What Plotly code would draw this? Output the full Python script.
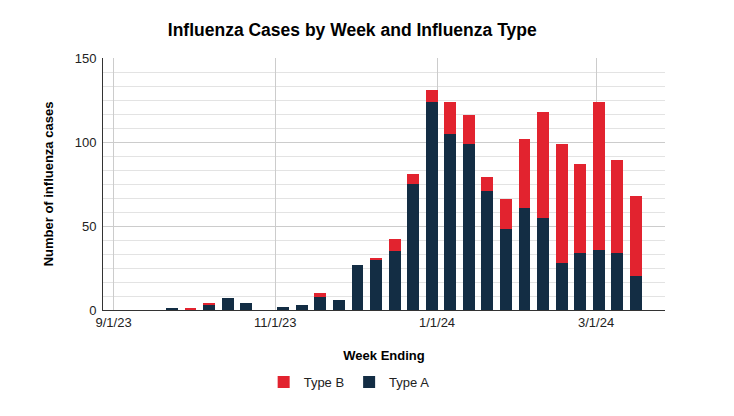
import plotly.graph_objects as go

# week ending dates (Saturdays)
weeks = ['2023-09-02', '2023-09-09', '2023-09-16', '2023-09-23', '2023-09-30',
         '2023-10-07', '2023-10-14', '2023-10-21', '2023-10-28', '2023-11-04',
         '2023-11-11', '2023-11-18', '2023-11-25', '2023-12-02', '2023-12-09',
         '2023-12-16', '2023-12-23', '2023-12-30', '2024-01-06', '2024-01-13',
         '2024-01-20', '2024-01-27', '2024-02-03', '2024-02-10', '2024-02-17',
         '2024-02-24', '2024-03-02', '2024-03-09', '2024-03-16']

type_a = [0, 0, 0, 1, 0, 3, 7, 4, 0, 2, 3, 8, 6, 27, 30, 35, 75, 124, 105, 99,
          71, 48, 61, 55, 28, 34, 36, 34, 20]
type_b = [0, 0, 0, 0, 1, 1, 0, 0, 0, 0, 0, 2, 0, 0, 1, 7, 6, 7, 19, 17,
          8, 18, 41, 63, 71, 53, 88, 55, 48]

tick_dates = ['2023-09-01', '2023-11-01', '2024-01-01', '2024-03-01']
tick_labels = ['9/1/23', '11/1/23', '1/1/24', '3/1/24']

bar_w = 4.5 * 86400000  # bar width in ms

fig = go.Figure()
fig.add_trace(go.Bar(x=weeks, y=type_a, name='Type A', width=bar_w,
                     marker=dict(color='#132d44', line=dict(width=0))))
fig.add_trace(go.Bar(x=weeks, y=type_b, name='Type B', width=bar_w,
                     marker=dict(color='#e2232f', line=dict(width=0))))

fig.update_layout(
    barmode='stack',
    width=734, height=416,
    margin=dict(l=95, r=77, t=50, b=114),
    paper_bgcolor='white',
    plot_bgcolor='white',
    font=dict(family='Liberation Sans, Arial, sans-serif', size=13, color='#222222'),
    title=dict(text='<b>Influenza Cases by Week and Influenza Type</b>',
               x=0.469, xanchor='center', y=1 - 22 / 416, yanchor='middle',
               font=dict(size=17.5, color='#000000')),
    xaxis=dict(
        type='date',
        range=['2023-08-28', '2024-03-27'],
        tickvals=tick_dates,
        ticktext=tick_labels,
        showgrid=True, gridcolor='#cccccc', gridwidth=1,
        showline=True, linecolor='#333333', linewidth=1,
        ticks='', tickfont=dict(size=13, color='#222222'),
        automargin=False,
        title=dict(text='<b>Week Ending</b>', font=dict(size=13, color='#000000'),
                   standoff=22),
    ),
    yaxis=dict(
        range=[0, 150],
        dtick=50,
        showgrid=True, gridcolor='#cccccc', gridwidth=1,
        minor=dict(dtick=50 / 6, showgrid=True, gridcolor='#e3e3e3', gridwidth=1),
        showline=True, linecolor='#333333', linewidth=1,
        zeroline=False,
        ticks='', tickfont=dict(size=13, color='#222222'),
        ticklabelstandoff=3,
        automargin=False,
        title=dict(text='<b>Number of influenza cases</b>',
                   font=dict(size=13, color='#000000'), standoff=18),
    ),
    legend=dict(orientation='h', x=0.438, xanchor='center', y=-0.226, yanchor='top',
                traceorder='reversed', font=dict(size=13, color='#222222')),
    bargap=0,
)

fig.write_html("out.html")
